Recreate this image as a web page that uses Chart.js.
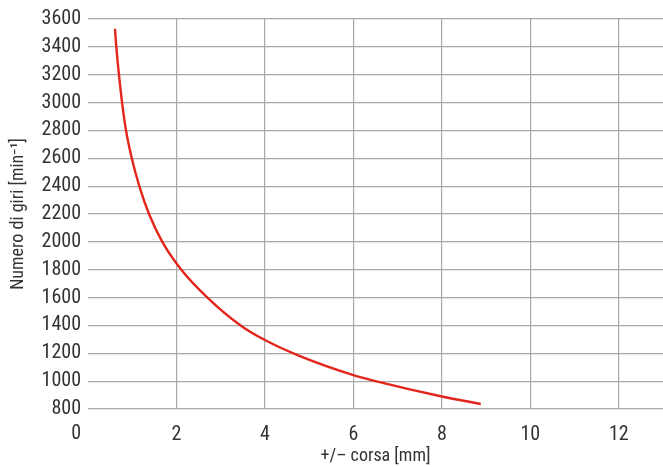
<!DOCTYPE html>
<html>
<head>
<meta charset="utf-8">
<script src="https://cdn.jsdelivr.net/npm/chart.js@4/dist/chart.umd.min.js"></script>
<style>
  html, body { margin: 0; padding: 0; background: #fff; }
  #wrap { width: 663px; height: 467px; }
</style>
</head>
<body>
<div id="wrap"><canvas id="c" width="663" height="467"></canvas></div>
<script>
// Stroke (mm) and corresponding speed (min^-1)
const stroke = [0.61, 0.64, 0.70, 0.77, 0.86, 0.99, 1.16, 1.38, 1.68, 2.11, 2.70, 3.45, 4.0, 4.75, 6.0, 6.5, 8.0, 8.88];
const speed  = [3530, 3400, 3200, 3000, 2800, 2600, 2400, 2200, 2000, 1800, 1600, 1400, 1295, 1185, 1043, 1000, 890, 836];

const xTicks = [0, 2, 4, 6, 8, 10, 12];
const xTitle = '+/\u2013 corsa [mm]';
const yTitle = 'Numero di giri [min\u207B\u00B9]';

const FONT = "'Liberation Sans Narrow', 'Roboto Condensed', Roboto, sans-serif";
const TEXT = '#333333';
const GRID = '#a9a9a9';

// Origin label sits right-aligned with the y tick labels
const originLabel = {
  id: 'originLabel',
  afterDraw(chart) {
    const x = chart.scales.x, y = chart.scales.y;
    const ctx = chart.ctx;
    ctx.save();
    ctx.font = '20px ' + FONT;
    ctx.fillStyle = TEXT;
    ctx.textAlign = 'right';
    ctx.textBaseline = 'middle';
    ctx.fillText('0', y.right - 7, x.top + 25);
    ctx.restore();
  }
};

new Chart(document.getElementById('c'), {
  type: 'line',
  data: {
    datasets: [{
      data: stroke.map((s, i) => ({ x: s, y: speed[i] })),
      borderColor: '#e3261c',
      borderWidth: 2.4,
      pointRadius: 0,
      fill: false,
      cubicInterpolationMode: 'monotone'
    }]
  },
  options: {
    responsive: false,
    animation: false,
    layout: { padding: { top: 18, right: 0, left: 0, bottom: 0 } },
    plugins: { legend: { display: false }, tooltip: { enabled: false } },
    scales: {
      x: {
        type: 'linear',
        min: 0,
        max: 13,
        afterBuildTicks(scale) { scale.ticks = xTicks.map(v => ({ value: v })); },
        afterFit(scale) { scale.height = 58; },
        border: { display: false },
        grid: {
          drawTicks: false,
          lineWidth: 1.2,
          color: c => (c.tick && c.tick.value === 0) ? 'rgba(0,0,0,0)' : GRID
        },
        ticks: {
          padding: 14,
          color: TEXT,
          font: { family: FONT, size: 20 },
          maxRotation: 0,
          callback: v => (v === 0 ? '' : String(v))
        },
        title: {
          display: true,
          text: xTitle,
          color: TEXT,
          font: { family: FONT, size: 18 },
          padding: { top: 0, bottom: 0 }
        }
      },
      y: {
        type: 'linear',
        min: 800,
        max: 3600,
        afterFit(scale) { scale.width = 88; },
        border: { display: false },
        grid: { drawTicks: false, lineWidth: 1.2, color: GRID },
        ticks: {
          stepSize: 200,
          padding: 7,
          color: TEXT,
          font: { family: FONT, size: 20 },
          callback: v => String(v)
        },
        title: {
          display: true,
          text: yTitle,
          color: TEXT,
          font: { family: FONT, size: 18 },
          padding: { top: 8, bottom: 0 }
        }
      }
    }
  },
  plugins: [originLabel]
});
</script>
</body>
</html>
